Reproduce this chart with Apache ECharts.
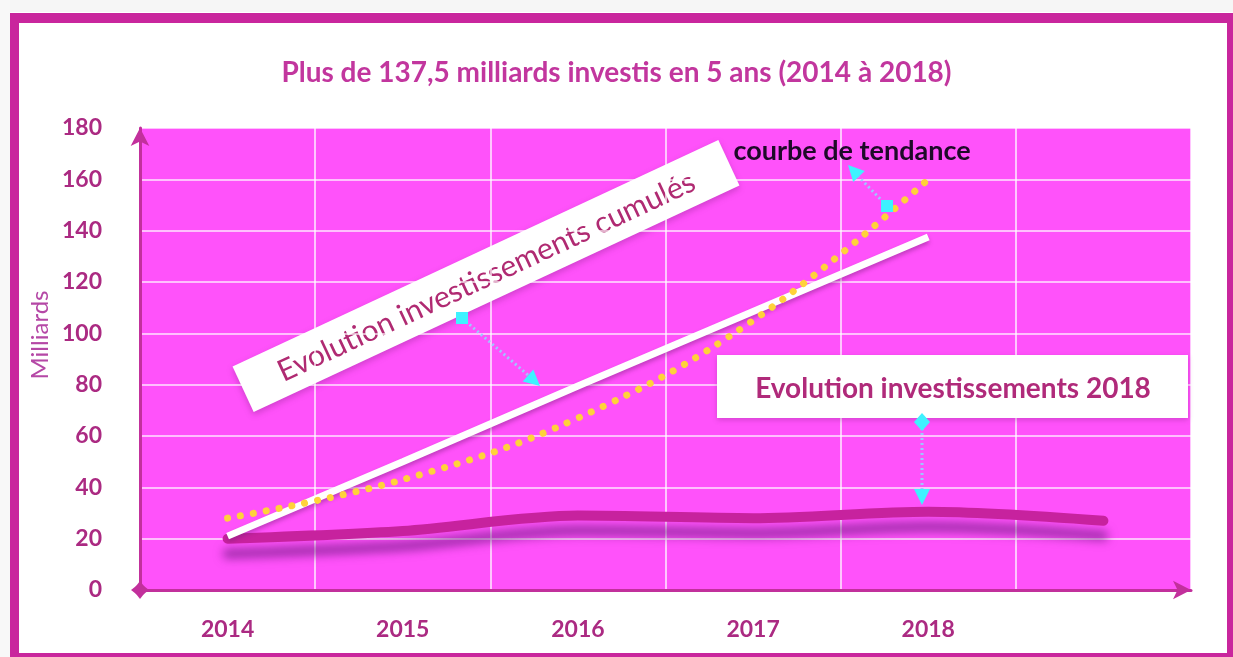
<!DOCTYPE html>
<html>
<head>
<meta charset="utf-8">
<script src="https://cdn.jsdelivr.net/npm/echarts@6/dist/echarts.min.js"></script>
<style>
html,body{margin:0;padding:0;background:#f7f7f7;}
#c{width:1233px;height:657px;}
</style>
</head>
<body>
<div id="c"></div>
<script>
// ---- data ----
const categories = ['2014', '2015', '2016', '2017', '2018', ''];
const annual2018 = [20, 23, 29, 28, 30.5, 27];          // Evolution investissements 2018
const cumulative = [21, 50, 79.5, 108.5, 137.5, null];  // Evolution investissements cumulés
const trend = [28, 43, 67, 105, 160, null];             // courbe de tendance
const yMin = 0, yMax = 180, yStep = 20;

const FONT = 'Lato, "Open Sans", sans-serif';
const LABEL = '#ab2a82';
const AXIS = '#c2309c';
const CYAN = '#3ef2ff';
const DOT = '#9fc6ff';

const chart = echarts.init(document.getElementById('c'));

function tri(tip, base1, base2) {
  return { type: 'polygon', shape: { points: [tip, base1, base2] }, style: { fill: CYAN }, z: 20 };
}

chart.setOption({
  backgroundColor: '#ffffff',
  animation: false,
  title: {
    text: 'Plus de 137,5 milliards investis en 5 ans (2014 à 2018)',
    left: 'center', top: 54,
    textStyle: { fontFamily: FONT, fontSize: 28, fontWeight: 'bold', color: '#c2369e' }
  },
  grid: { left: 140, right: 42, top: 128, bottom: 67, show: true, backgroundColor: '#ff52fa', borderWidth: 0 },
  xAxis: {
    type: 'category',
    data: categories,
    boundaryGap: true,
    axisLine: { show: true, symbol: ['diamond', 'arrow'], symbolSize: [14, 18], lineStyle: { color: AXIS, width: 3 } },
    axisTick: { show: false },
    splitLine: { show: true, interval: 0, lineStyle: { color: '#ffffff', width: 1.5, opacity: 0.9 } },
    axisLabel: { margin: 28, fontFamily: FONT, fontSize: 23, fontWeight: 'bold', color: LABEL, interval: 0 }
  },
  yAxis: {
    type: 'value',
    min: yMin, max: yMax, interval: yStep,
    axisLine: { show: true, symbol: ['diamond', 'arrow'], symbolSize: [14, 18], lineStyle: { color: AXIS, width: 3 } },
    axisTick: { show: false },
    splitLine: { show: true, lineStyle: { color: '#ffffff', width: 1.5, opacity: 0.85 } },
    axisLabel: { margin: 38, fontFamily: FONT, fontSize: 23, fontWeight: 'bold', color: LABEL }
  },
  series: [
    {
      name: 'Evolution investissements 2018',
      type: 'line',
      data: annual2018,
      smooth: 0.3,
      symbol: 'none',
      lineStyle: { color: '#c7229e', width: 10, cap: 'round',
        shadowColor: 'rgba(100,20,120,0.6)', shadowBlur: 10, shadowOffsetY: 15 },
      z: 3
    },
    {
      name: 'Evolution investissements cumulés',
      type: 'line',
      data: cumulative,
      symbol: 'none',
      lineStyle: { color: '#ffffff', width: 7, cap: 'butt',
        shadowColor: 'rgba(120,30,120,0.45)', shadowBlur: 4, shadowOffsetY: 3 },
      z: 4
    },
    {
      name: 'courbe de tendance',
      type: 'line',
      data: trend,
      smooth: 0.4,
      symbol: 'none',
      lineStyle: { color: '#ffd23a', width: 7, type: [0.1, 13], cap: 'round' },
      z: 5
    }
  ],
  graphic: [
    // frame
    { type: 'rect', shape: { x: 0, y: 0, width: 1233, height: 12 }, style: { fill: '#f6f6f6' }, z: 1 },
    { type: 'rect', shape: { x: 0, y: 0, width: 10, height: 657 }, style: { fill: '#f8f8f8' }, z: 1 },
    { type: 'rect', shape: { x: 10, y: 13, width: 1222, height: 10 }, style: { fill: '#c9269d' }, z: 2 },
    { type: 'rect', shape: { x: 10, y: 13, width: 9, height: 644 }, style: { fill: '#c9269d' }, z: 2 },
    { type: 'rect', shape: { x: 1227, y: 13, width: 6, height: 644 }, style: { fill: '#c9269d' }, z: 2 },
    { type: 'rect', shape: { x: 10, y: 653, width: 1223, height: 4 }, style: { fill: '#c9269d' }, z: 2 },
    // y axis name
    { type: 'text', x: 40, y: 335, rotation: Math.PI / 2, z: 5,
      style: { text: 'Milliards', fontFamily: FONT, fontSize: 24, fill: '#b548a6', align: 'center', verticalAlign: 'middle' } },
    // rotated label box
    {
      type: 'group', x: 486, y: 276, rotation: 25 * Math.PI / 180, z: 10,
      children: [
        { type: 'rect', shape: { x: -268, y: -25, width: 536, height: 50 },
          style: { fill: '#ffffff', shadowColor: 'rgba(120,30,120,0.35)', shadowBlur: 6, shadowOffsetY: 3 } },
        { type: 'text', x: 0, y: 1,
          style: { text: 'Evolution investissements cumulés', fontFamily: FONT, fontSize: 30,
            fill: '#b02a72', align: 'center', verticalAlign: 'middle' } }
      ]
    },
    // 2018 label box
    { type: 'rect', shape: { x: 717, y: 355, width: 471, height: 63 },
      style: { fill: '#ffffff', shadowColor: 'rgba(120,30,120,0.3)', shadowBlur: 5, shadowOffsetY: 2 }, z: 10 },
    { type: 'text', x: 953, y: 389, z: 11,
      style: { text: 'Evolution investissements 2018', fontFamily: FONT, fontSize: 28, fontWeight: 'bold',
        fill: '#b02a7a', align: 'center', verticalAlign: 'middle' } },
    // trend label
    { type: 'text', x: 852, y: 151, z: 11,
      style: { text: 'courbe de tendance', fontFamily: FONT, fontSize: 27, fontWeight: 'bold',
        fill: '#1e0a28', align: 'center', verticalAlign: 'middle' } },
    // arrow A (cumulés)
    { type: 'line', shape: { x1: 462, y1: 318, x2: 528, y2: 375 }, style: { stroke: DOT, lineWidth: 3, lineDash: [2, 3] }, z: 19 },
    { type: 'rect', shape: { x: 456, y: 312, width: 12, height: 12 }, style: { fill: CYAN }, z: 20 },
    tri([540, 386], [522.7, 381.5], [533.3, 369.5]),
    // arrow B (tendance)
    { type: 'line', shape: { x1: 887, y1: 206, x2: 859, y2: 177 }, style: { stroke: DOT, lineWidth: 3, lineDash: [2, 3] }, z: 19 },
    { type: 'rect', shape: { x: 881, y: 200, width: 12, height: 12 }, style: { fill: CYAN }, z: 20 },
    tri([848, 165], [864.8, 171.1], [853.2, 182.1]),
    // arrow C (2018)
    { type: 'line', shape: { x1: 922, y1: 428, x2: 922, y2: 490 }, style: { stroke: DOT, lineWidth: 3, lineDash: [2, 3] }, z: 19 },
    { type: 'polygon', shape: { points: [[922, 413], [930, 422], [922, 431], [914, 422]] }, style: { fill: CYAN }, z: 20 },
    tri([922, 505], [914, 489], [930, 489])
  ]
});
</script>
</body>
</html>
